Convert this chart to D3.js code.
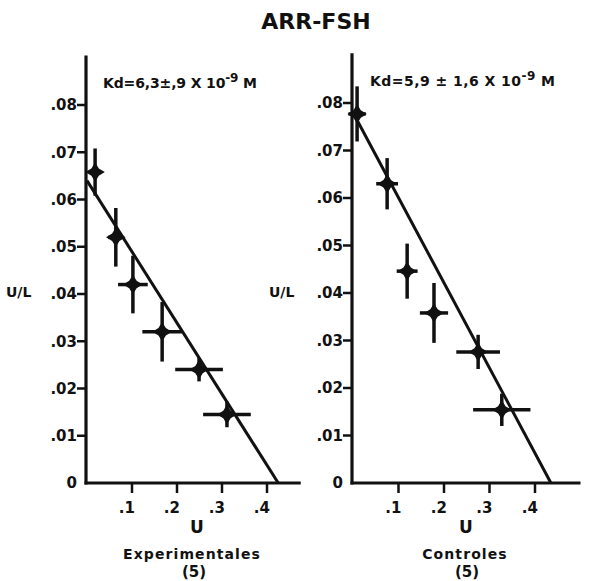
<!DOCTYPE html>
<html>
<head>
<meta charset="utf-8">
<script src="https://cdn.jsdelivr.net/npm/d3@7"></script>
<style>
  body { margin: 0; background: #fff; }
  text { font-family: "DejaVu Sans", sans-serif; font-weight: bold; fill: #111; }
</style>
</head>
<body>
<script>
const width  = 600
const height = 581

// ---- data ----
const yTicks = [0, 0.01, 0.02, 0.03, 0.04, 0.05, 0.06, 0.07, 0.08]
const yTickLabels = ["0", ".01", ".02", ".03", ".04", ".05", ".06", ".07", ".08"]
const xTicks = [0.1, 0.2, 0.3, 0.4]
const xTickLabels = [".1", ".2", ".3", ".4"]

// Experimentales
const expU      = [0.018, 0.064, 0.102, 0.167, 0.249, 0.311]
const expUL     = [0.0658, 0.052, 0.042, 0.032, 0.024, 0.0145]
const expUErr   = [0.011, 0.017, 0.033, 0.044, 0.053, 0.053]
const expULErr  = [0.0050, 0.0062, 0.0061, 0.0063, 0.0025, 0.0027]
const expFit    = [[0, 0.064], [0.425, 0]]

// Controles
const ctlU      = [0.009, 0.075, 0.119, 0.178, 0.275, 0.327]
const ctlUL     = [0.0777, 0.063, 0.0446, 0.0358, 0.0276, 0.0154]
const ctlUErr   = [0.019, 0.024, 0.023, 0.031, 0.048, 0.063]
const ctlULErr  = [0.0058, 0.0054, 0.0058, 0.0063, 0.0036, 0.0034]
const ctlFit    = [[0, 0.078], [0.435, 0]]

const svg = d3.select("body").append("svg")
	.attr("width", width)
	.attr("height", height)

svg.append("text")
	.attr("x", 316)
	.attr("y", 29)
	.attr("text-anchor", "middle")
	.attr("font-size", 22)
	.text("ARR-FSH")

// four pointed star marker
const star4 = {
	draw(ctx, size) {
		const r = Math.sqrt(size) / 2
		const k = r * 0.38
		ctx.moveTo(0, -r)
		ctx.lineTo(k, -k)
		ctx.lineTo(r, 0)
		ctx.lineTo(k, k)
		ctx.lineTo(0, r)
		ctx.lineTo(-k, k)
		ctx.lineTo(-r, 0)
		ctx.lineTo(-k, -k)
		ctx.closePath()
	}
}

function panel(cfg) {
	const x = d3.scaleLinear().domain([0, 0.4]).range(cfg.xRange)
	const y = d3.scaleLinear().domain([0, 0.08]).range(cfg.yRange)
	const g = svg.append("g")
	const x0 = x(0) - 1

	// axes lines
	g.append("line")
		.attr("x1", x0).attr("x2", x0)
		.attr("y1", y(cfg.yTop)).attr("y2", y(0) + 1.5)
		.attr("stroke", "#111").attr("stroke-width", 3.2)
	g.append("line")
		.attr("x1", x0 - 1.5).attr("x2", x(cfg.xEnd))
		.attr("y1", y(0)).attr("y2", y(0))
		.attr("stroke", "#111").attr("stroke-width", 3.2)

	// y ticks
	const yt = g.selectAll(".yt")
		.data(yTicks)
		.join("g")
		.attr("transform", d => `translate(${x0},${y(d)})`)
	yt.filter(d => d > 0).append("line")
		.attr("x1", -9).attr("x2", 0)
		.attr("stroke", "#111").attr("stroke-width", 2.5)
	yt.append("text")
		.attr("x", -9)
		.attr("dy", "0.36em")
		.attr("text-anchor", "end")
		.attr("font-size", 15)
		.text((d, i) => yTickLabels[i])

	// x ticks
	const xt = g.selectAll(".xt")
		.data(xTicks)
		.join("g")
		.attr("transform", d => `translate(${x(d)},${y(0)})`)
	xt.append("line")
		.attr("y1", 0).attr("y2", 10)
		.attr("stroke", "#111").attr("stroke-width", 2.5)
	xt.append("text")
		.attr("x", 3)
		.attr("y", 30)
		.attr("text-anchor", "end")
		.attr("font-size", 15)
		.text((d, i) => xTickLabels[i])

	// labels
	g.append("text")
		.attr("x", cfg.ulX).attr("y", 297)
		.attr("font-size", 14)
		.text("U/L")
	g.append("text")
		.attr("x", cfg.uX).attr("y", 533)
		.attr("text-anchor", "middle")
		.attr("font-size", 17)
		.text("U")
	g.append("text")
		.attr("x", cfg.nameX).attr("y", 559)
		.attr("text-anchor", "middle")
		.attr("font-size", 14)
		.attr("letter-spacing", 1.1)
		.text(cfg.name)
	g.append("text")
		.attr("x", cfg.nameX + 2).attr("y", 577)
		.attr("text-anchor", "middle")
		.attr("font-size", 15)
		.text("(5)")

	const kd = g.append("text")
		.attr("x", cfg.kdX).attr("y", cfg.kdY)
		.attr("font-size", 14)
		.attr("textLength", cfg.kdLen)
	kd.append("tspan").text(cfg.kd)
	kd.append("tspan").attr("dy", -6).attr("font-size", 12).text("-9")
	kd.append("tspan").attr("dy", 6).text(" M")

	// fit line
	g.append("line")
		.attr("x1", x(cfg.fit[0][0])).attr("y1", y(cfg.fit[0][1]))
		.attr("x2", x(cfg.fit[1][0])).attr("y2", y(cfg.fit[1][1]))
		.attr("stroke", "#111").attr("stroke-width", 3)

	// points with error bars
	const pts = cfg.u.map((u, i) => ({u, ul: cfg.ul[i], eu: cfg.eu[i], eul: cfg.eul[i]}))
	const pg = g.selectAll(".pt")
		.data(pts)
		.join("g")
		.attr("transform", d => `translate(${x(d.u)},${y(d.ul)})`)
	pg.append("line")
		.attr("x1", d => x(d.u - d.eu) - x(d.u)).attr("x2", d => x(d.u + d.eu) - x(d.u))
		.attr("stroke", "#111").attr("stroke-width", 3.5)
	pg.append("line")
		.attr("y1", d => y(d.ul + d.eul) - y(d.ul)).attr("y2", d => y(d.ul - d.eul) - y(d.ul))
		.attr("stroke", "#111").attr("stroke-width", 3.5)
	pg.append("path")
		.attr("d", d3.symbol().type(star4).size(380))
		.attr("fill", "#111")
}

panel({
	xRange: [87, 267], yRange: [483, 105], yTop: 0.0905, xEnd: 0.475,
	u: expU, ul: expUL, eu: expUErr, eul: expULErr, fit: expFit,
	ulX: 6, uX: 197, nameX: 192, name: "Experimentales",
	kd: "Kd=6,3±,9 X 10", kdX: 103, kdY: 88, kdLen: 154
})

panel({
	xRange: [353, 535], yRange: [483, 103], yTop: 0.0905, xEnd: 0.5,
	u: ctlU, ul: ctlUL, eu: ctlUErr, eul: ctlULErr, fit: ctlFit,
	ulX: 269, uX: 466, nameX: 465, name: "Controles",
	kd: "Kd=5,9 ± 1,6 X 10", kdX: 370, kdY: 86, kdLen: 185
})
</script>
</body>
</html>
